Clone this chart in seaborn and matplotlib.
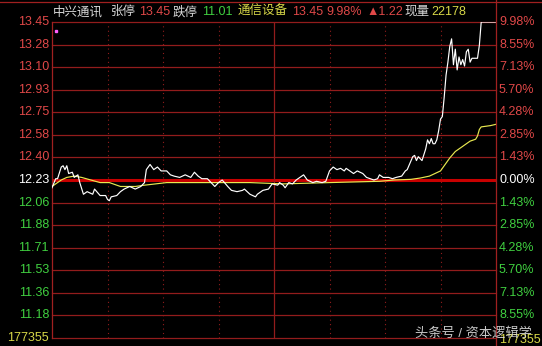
import matplotlib
matplotlib.use("Agg")
import matplotlib.pyplot as plt
import seaborn as sns
import pandas as pd
from matplotlib.lines import Line2D

# ---------------- data ----------------
price_minute = [0, 2, 3, 5, 6, 7, 8, 9, 11, 12, 14, 15, 17, 19, 22, 23, 26, 29, 30, 31,
                32, 35, 37, 39, 42, 45, 48, 50, 51, 53, 55, 57, 59, 62, 64, 66, 69, 72, 75, 77,
                79, 81, 84, 86, 88, 90, 92, 95, 97, 100, 103, 104, 107, 110, 111, 114, 117, 119, 122, 123,
                125, 126, 128, 130, 132, 134, 136, 138, 141, 143, 146, 148, 150, 152, 154, 156, 158, 159, 161, 163,
                165, 168, 170, 172, 174, 176, 177, 179, 182, 184, 186, 189, 191, 192, 195, 196, 197, 198, 200, 202,
                203, 204, 205, 206, 207, 208, 209, 210, 211, 212, 213, 214, 215, 216, 217, 218, 219, 220, 221, 222,
                223, 224, 225, 226, 227, 228, 229, 230, 231, 232, 240]
price = [12.17, 12.24, 12.24, 12.33, 12.34, 12.31, 12.34, 12.28, 12.29, 12.25, 12.27, 12.21, 12.12, 12.14, 12.12, 12.16, 12.11, 12.11, 12.08, 12.07,
         12.10, 12.11, 12.14, 12.16, 12.18, 12.16, 12.18, 12.21, 12.31, 12.35, 12.31, 12.33, 12.30, 12.30, 12.27, 12.26, 12.25, 12.27, 12.25, 12.29,
         12.26, 12.24, 12.24, 12.21, 12.18, 12.21, 12.23, 12.18, 12.15, 12.14, 12.15, 12.16, 12.12, 12.10, 12.12, 12.15, 12.16, 12.20, 12.19, 12.21,
         12.19, 12.17, 12.21, 12.20, 12.23, 12.25, 12.27, 12.23, 12.21, 12.22, 12.21, 12.22, 12.30, 12.33, 12.31, 12.32, 12.30, 12.32, 12.30, 12.28,
         12.30, 12.28, 12.25, 12.24, 12.23, 12.24, 12.27, 12.25, 12.25, 12.24, 12.25, 12.26, 12.30, 12.31, 12.41, 12.42, 12.38, 12.41, 12.38, 12.47,
         12.54, 12.51, 12.55, 12.51, 12.51, 12.54, 12.61, 12.70, 12.72, 12.87, 13.04, 13.14, 13.26, 13.32, 13.12, 13.24, 13.08, 13.18, 13.12, 13.16,
         13.11, 13.22, 13.24, 13.14, 13.17, 13.17, 13.17, 13.17, 13.27, 13.45, 13.45]

avg_minute = [0, 3, 5, 8, 12, 16, 21, 26, 31, 37, 45, 50, 56, 62, 80, 107, 125, 150, 177, 185,
              194, 199, 204, 210, 212, 215, 218, 221, 223, 226, 229, 230, 231, 232, 237, 240]
avg_price = [12.18, 12.21, 12.23, 12.25, 12.26, 12.25, 12.23, 12.21, 12.21, 12.18, 12.18, 12.19, 12.20, 12.21, 12.21, 12.21, 12.20, 12.21, 12.22, 12.23,
             12.235, 12.245, 12.26, 12.30, 12.34, 12.40, 12.45, 12.48, 12.50, 12.53, 12.545, 12.57, 12.62, 12.64, 12.65, 12.66]

prev_close = 12.23
limit_up = 13.45
limit_down = 11.01
left_labels = ["13.45", "13.28", "13.10", "12.93", "12.75", "12.58", "12.40", "12.23",
               "12.06", "11.88", "11.71", "11.53", "11.36", "11.18", "177355"]
right_labels = ["9.98%", "8.55%", "7.13%", "5.70%", "4.28%", "2.85%", "1.43%", "0.00%",
                "1.43%", "2.85%", "4.28%", "5.70%", "7.13%", "8.55%", "177355"]
title_parts = [("中兴通讯", "#d8d8d8"), ("张停", "#d8d8d8"), ("13.45", "#e04848"),
               ("跌停", "#d8d8d8"), ("11.01", "#40d040"), ("通信设备", "#d8d848"),
               ("13.45", "#e04848"), ("9.98%", "#e04848"), ("▲1.22", "#e04848"),
               ("现量", "#d8d8d8"), ("22178", "#d8d848")]
title_x = [53, 111, 139, 173, 202, 238, 292, 326, 366, 404, 431]
watermark = "头条号 / 资本逻辑学"

# ---------------- style ----------------
FAM = ["Liberation Sans", "Noto Sans CJK SC", "DejaVu Sans"]
plt.rcParams["font.family"] = FAM

W, H = 542, 346
fig = plt.figure(figsize=(W / 100, H / 100), dpi=100, facecolor="black")
L, R, T, B = 52, 496, 22, 338
ax = fig.add_axes([L / W, 1 - B / H, (R - L) / W, (B - T) / H])
ax.set_facecolor("black")
ax.set_xlim(0, 240)
ax.set_ylim(limit_down, limit_up)
ax.set_axis_off()

RED_GRID = "#921c1c"
RED_TXT = "#e04848"
GREEN_TXT = "#40d040"
YEL = "#d8d848"

step = (limit_up - prev_close) / 7
levels = [prev_close + k * step for k in range(7, -8, -1)]

for i, lv in enumerate(levels):
    if i == 7:
        continue
    ax.axhline(lv, color=RED_GRID, lw=0.9, zorder=1, clip_on=False)
ax.axhline(prev_close, color="#c80000", lw=2.2, zorder=1)

# vertical grid
for m in [30, 60, 90, 150, 180, 210]:
    ax.axvline(m, color=RED_GRID, lw=0.8, ls=(0, (1, 3)), zorder=1)
ax.axvline(120, color=RED_GRID, lw=0.9, zorder=1)
ax.axvline(0, color="#a02020", lw=0.9, zorder=1, clip_on=False)

# frame lines in figure coords
fig.add_artist(Line2D([0, 1], [1 - 1.5 / H, 1 - 1.5 / H], color="#a02020", lw=0.9))
fig.add_artist(Line2D([R / W, R / W], [0, 1], color="#a02020", lw=0.9))

df_p = pd.DataFrame({"minute": price_minute, "price": price})
df_a = pd.DataFrame({"minute": avg_minute, "avg": avg_price})
sns.lineplot(data=df_a, x="minute", y="avg", ax=ax, color="#e8e850", lw=0.85, zorder=3)
sns.lineplot(data=df_p, x="minute", y="price", ax=ax, color="white", lw=0.85, zorder=4)
ax.set_axis_off()
ax.plot([2.2], [13.38], marker="s", ms=1.6, color="#ff60ff", lw=0, zorder=5)

def ypix(v):
    return T + (limit_up - v) / (limit_up - limit_down) * (B - T)

for i, lv in enumerate(levels):
    yy = 1 - ypix(lv) / H
    if i < 7:
        c = RED_TXT
    elif i == 7:
        c = "white"
    else:
        c = GREEN_TXT
    if i == 14:
        c = YEL
    fig.text(49 / W, yy, left_labels[i], color=c, fontsize=9, ha="right", va="center")
    fig.text(499 / W, yy - (2 / H if i == 14 else 0), right_labels[i], color=c,
             fontsize=9, ha="left", va="center")

for (txt, c), x in zip(title_parts, title_x):
    fig.text(x / W, 1 - 12 / H, txt, color=c, fontsize=9, ha="left", va="center")

fig.text(415 / W, 1 - 333 / H, watermark, color="#e8e8e8", alpha=0.85, fontsize=9.5,
         ha="left", va="center", zorder=10)

fig.savefig("out.png", dpi=100, facecolor="black")
